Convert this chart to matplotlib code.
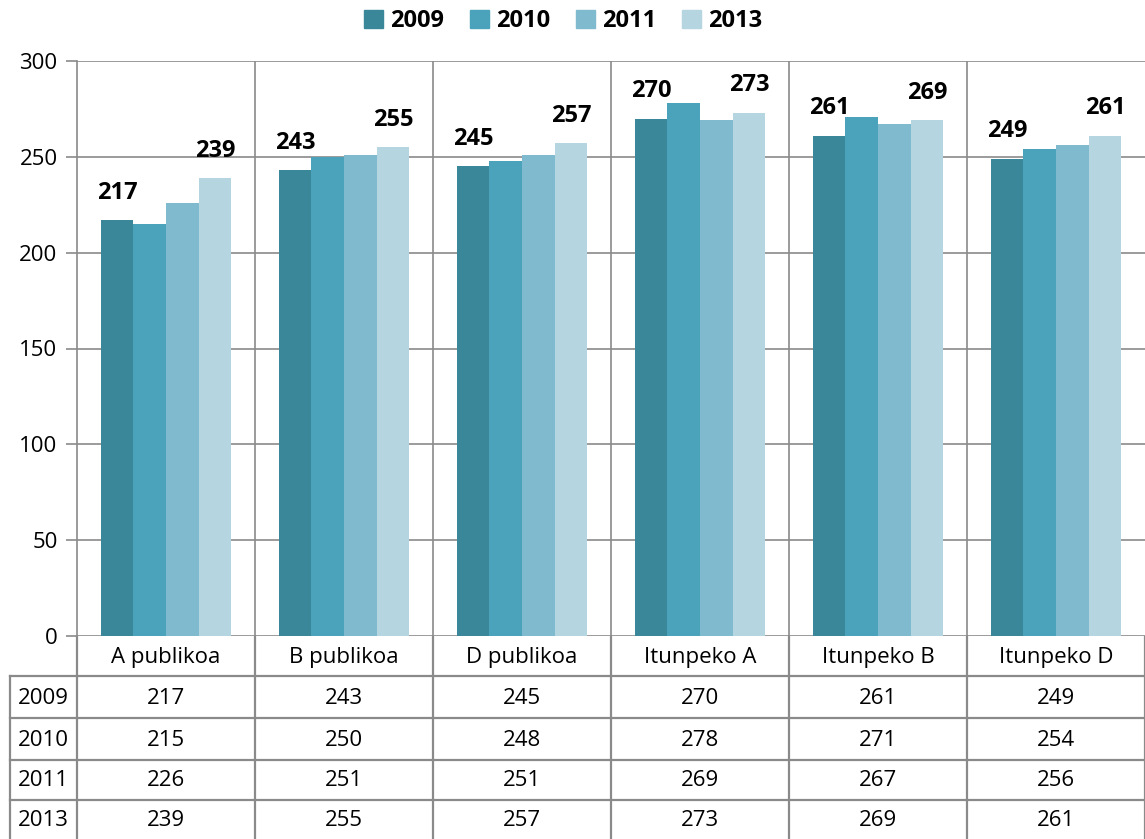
import numpy as np
import matplotlib.pyplot as plt
from matplotlib.patches import Patch

categories = ["A publikoa", "B publikoa", "D publikoa", "Itunpeko A", "Itunpeko B", "Itunpeko D"]
years = ["2009", "2010", "2011", "2013"]
v2009 = [217, 243, 245, 270, 261, 249]
v2010 = [215, 250, 248, 278, 271, 254]
v2011 = [226, 251, 251, 269, 267, 256]
v2013 = [239, 255, 257, 273, 269, 261]
colors = ["#3a8799", "#4aa3ba", "#7fbacf", "#b5d5e0"]
grid = "#8a8a8a"

plt.rcParams['font.family'] = ['Open Sans', 'DejaVu Sans']

W, H = 1145, 839
fig = plt.figure(figsize=(W / 100, H / 100), dpi=100)
ax = fig.add_axes([77 / W, (H - 636) / H, 1 - 77 / W, 575 / H])

series = [v2009, v2010, v2011, v2013]
n = len(categories)
x = np.arange(n)
bw = 0.183
for i, (vals, c) in enumerate(zip(series, colors)):
    pos = x + (i - 1.5) * bw
    ax.bar(pos, vals, bw, color=c, zorder=3)
    if years[i] in ("2009", "2013"):
        for p, v in zip(pos, vals):
            ax.annotate(str(v), (p, v), xytext=(0, 11), textcoords="offset points",
                        ha="center", va="bottom", fontsize=17, fontweight="bold")

ax.set_xlim(-0.5, n - 0.5)
ax.set_ylim(0, 300)
ax.set_yticks(range(0, 301, 50))
ax.tick_params(axis="y", labelsize=16, length=8, color=grid, width=1.2, pad=6)
ax.set_xticks([])
ax.grid(axis="y", color=grid, linewidth=1.2, zorder=0)
for s in ["top", "right", "bottom"]:
    ax.spines[s].set_visible(False)
ax.spines["left"].set_color(grid)
ax.spines["left"].set_linewidth(1.2)
for b in np.arange(0.5, n - 0.5, 1):
    ax.axvline(b, color=grid, linewidth=1.2, zorder=1)

# data table below the chart
tb = fig.add_axes([0, 0, 1, (H - 636) / H])
tb.set_xlim(0, W)
tb.set_ylim(H, 636)
tb.axis("off")
cw = (W - 77) / n
rows_y = [636, 676, 718, 760, 800, 839]
for b in range(n + 1):
    tb.plot([77 + b * cw] * 2, [636, 839], color=grid, lw=1.6)
tb.plot([10, 10], [676, 839], color=grid, lw=1.6)
for yy in rows_y[1:-1]:
    tb.plot([10, W], [yy, yy], color=grid, lw=1.6)
for j, cat in enumerate(categories):
    tb.text(77 + (j + 0.5) * cw, (rows_y[0] + rows_y[1]) / 2 + 1, cat,
            ha="center", va="center", fontsize=16)
for r, (yr, vals) in enumerate(zip(years, series)):
    yc = (rows_y[r + 1] + rows_y[r + 2]) / 2 + 1
    tb.text(43, yc, yr, ha="center", va="center", fontsize=16)
    for j, v in enumerate(vals):
        tb.text(77 + (j + 0.5) * cw, yc, str(v), ha="center", va="center", fontsize=16)

handles = [Patch(color=c, label=y) for c, y in zip(colors, years)]
fig.legend(handles=handles, loc="center", bbox_to_anchor=(563 / W, 1 - 21 / H), ncol=4,
           frameon=False, handlelength=0.8, handleheight=0.8, handletextpad=0.3,
           columnspacing=1.1, prop={"weight": "bold", "size": 17})

fig.savefig("out.png", dpi=100)
